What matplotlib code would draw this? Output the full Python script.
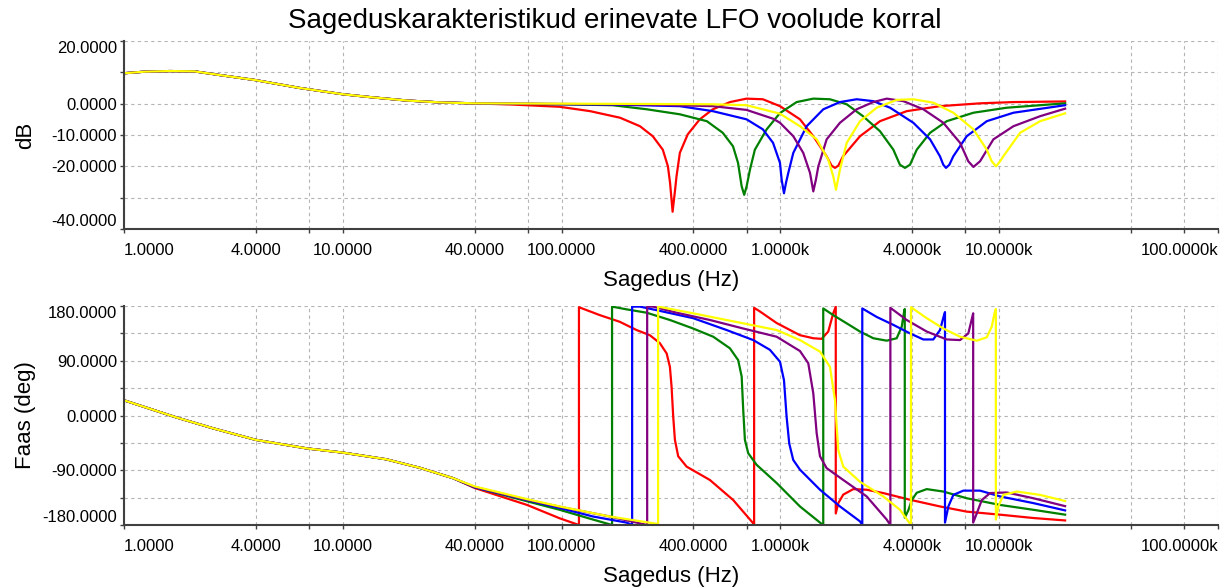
"""Sageduskarakteristikud erinevate LFO voolude korral — amplituud + faas."""
import matplotlib
matplotlib.use("Agg")
import matplotlib.pyplot as plt
from matplotlib.ticker import NullLocator

plt.rcParams["font.family"] = ["Liberation Sans", "DejaVu Sans"]

# --- amplituud (dB), ühine madalsageduslik osa ---
COMMON_MAG_F = [1.0, 1.24, 1.62, 2.1, 2.82, 4.0, 6.35, 10.0, 13.7, 19.6, 27.7, 39.3]
COMMON_MAG_DB = [9.7, 10.2, 10.4, 10.3, 9.0, 7.5, 5.0, 3.0, 2.0, 1.0, 0.4, 0.1]

RED_MAG_F = [60, 98, 135, 185, 228, 261, 290, 306, 313, 321.5, 330, 335, 347, 377, 428, 491, 588, 700,
             831, 995, 1228, 1413, 1626, 1714, 1775, 1838, 1932, 2310, 2851, 3776, 5358, 8170, 11610, 20000]
RED_MAG_DB = [-0.3, -1.0, -2.4, -4.5, -7.2, -10.4, -14.7, -20.0, -25.3, -34.5, -27.5, -23.2, -15.7, -9.8,
              -5.0, -1.8, 0.5, 1.6, 1.4, -0.8, -5.0, -10.4, -16.8, -19.8, -20.5, -19.8, -16.8, -10.4,
              -5.6, -2.4, -0.8, 0.1, 0.5, 0.7]

GREEN_MAG_F = [98, 171, 245, 347, 461, 545, 607, 640, 665, 683, 700, 726, 764, 865, 995, 1186, 1413,
               1683, 2009, 2384, 2851, 3282, 3516, 3708, 3909, 4197, 4830, 5754, 7620, 10820, 20000]
GREEN_MAG_DB = [-0.2, -0.5, -1.8, -3.4, -5.6, -9.3, -13.6, -18.9, -26.4, -29.1, -26.5, -21.0, -14.7,
                -8.2, -3.0, 0.5, 1.6, 1.4, -0.2, -4.0, -8.8, -14.7, -19.5, -20.5, -19.5, -14.7, -9.3,
                -5.6, -2.9, -1.3, 0.1]

BLUE_MAG_F = [170, 347, 491, 700, 831, 925, 995, 1013, 1038, 1060, 1087, 1145, 1318, 1570, 1871, 2230,
              2656, 3170, 4048, 4830, 5358, 5550, 5710, 5916, 6166, 7100, 8770, 11610, 20000]
BLUE_MAG_DB = [-0.3, -0.8, -2.4, -5.0, -8.2, -12.5, -18.9, -24.3, -28.6, -25.3, -22.0, -15.7, -7.2,
               -1.8, 0.5, 1.4, 0.8, -1.3, -6.1, -11.4, -16.8, -19.5, -20.5, -19.5, -16.8, -10.4, -5.6,
               -2.9, -0.5]

PURPLE_MAG_F = [250, 491, 700, 925, 995, 1145, 1271, 1365, 1413, 1452, 1490, 1626, 1871, 2230, 2656,
                3060, 3645, 4498, 5550, 6620, 7220, 7620, 8170, 9400, 11610, 15380, 20000]
PURPLE_MAG_DB = [-0.3, -0.8, -2.0, -4.8, -6.1, -10.4, -15.7, -22.1, -28.0, -24.3, -20.0, -11.4, -6.1,
                 -1.8, 0.5, 1.6, 0.8, -1.8, -6.1, -12.5, -18.4, -20.2, -18.4, -11.4, -7.2, -4.0, -1.6]

YELLOW_MAG_F = [250, 491, 700, 995, 1228, 1465, 1655, 1743, 1794, 1871, 2009, 2310, 2754, 3399, 4048,
                5000, 6166, 7620, 8770, 9240, 9670, 10085, 10440, 12450, 15380, 20000]
YELLOW_MAG_DB = [-0.1, -0.2, -0.5, -3.2, -7.2, -11.4, -17.9, -23.2, -27.5, -21.0, -12.5, -5.6, -1.3,
                 1.2, 1.4, 0.3, -2.9, -8.2, -14.7, -18.4, -20.0, -18.4, -16.8, -9.3, -5.6, -3.1]

# --- faas (deg), ühine madalsageduslik osa ---
COMMON_PH_F = [1.0, 1.73, 2.55, 4.0, 6.82, 10.0, 15.8, 22.5, 31.9]
COMMON_PH_DEG = [25, -3, -21, -40, -54, -61, -72, -86, -103]

RED_PH_F = [40, 69.5, 98, 120, 120, 149.5, 184.5, 220, 253, 281, 302, 312.5, 318, 323.6, 329.4, 341,
            372.5, 476, 608.5, 746, 758, 758, 806, 961, 1228, 1413, 1543, 1654, 1743, 1790, 1790, 1838,
            1937, 2152, 2478, 2952, 3909, 5362, 7102, 10085, 14320, 20000]
RED_PH_DEG = [-119, -147, -169, -180, 178, 165, 154, 140.5, 132, 119, 102, 80, 47.5, -2, -40, -67,
              -84, -106, -139, -176, -180, 177, 171, 152, 132, 127, 126, 138, 168, 179, -161, -144,
              -130, -121, -122, -127.5, -138.5, -149.5, -158, -163, -168.5, -172.5]

GREEN_PH_F = [40, 69.5, 98, 139, 170, 170, 198, 244.5, 312.5, 399, 493, 587.5, 641, 665, 676, 688,
              712.5, 778, 961, 1228, 1516, 1569, 1569, 1743, 2008, 2310, 2657, 3059, 3399, 3583, 3683,
              3700, 3700, 3850, 3980, 4196, 4662, 5552, 7102, 10085, 14320, 20000]
GREEN_PH_DEG = [-118, -141, -155, -171, -180, 179, 174.5, 169, 157, 143, 129.5, 110.5, 91, 64, 9, -40,
                -62, -81, -111, -149.5, -176, -180, 176, 165, 151.5, 138, 127, 123, 127, 146, 173,
                175, -168, -155, -139, -127, -121, -125, -136, -147, -155, -163]

BLUE_PH_F = [40, 69.5, 98, 139, 198, 210, 210, 228, 281, 399, 567.5, 751, 895, 995, 1038, 1067, 1097,
             1144, 1228, 1516, 1871, 2310, 2366, 2366, 2754, 3280, 3909, 4498, 4995, 5362, 5593, 5650,
             5650, 5853, 6168, 6852, 8172, 10085, 14320, 20000]
BLUE_PH_DEG = [-118, -139, -152, -166, -176, -180, 179, 179, 172, 160, 140.5, 124, 108, 88.5, 58, -2,
               -46, -73, -89, -122, -149.5, -174, -180, 176, 162, 149, 135, 125, 125, 140.5, 165, 170,
               -176, -149.5, -130.5, -123.5, -123.5, -133, -144, -156]

PURPLE_PH_F = [40, 69.5, 98, 166, 246, 246, 262, 335, 476, 676, 961, 1228, 1340, 1413, 1464, 1516,
               1626, 1937, 2478, 3059, 3180, 3180, 3776, 4662, 5754, 6617, 7222, 7565, 7600, 7600, 7892,
               8318, 9077, 10822, 14320, 20000]
PURPLE_PH_DEG = [-117.5, -138.5, -150, -166, -180, 179, 179, 169, 157, 143, 129.5, 106, 86, 36.5, -29,
                 -67, -86.5, -106, -133, -171, -180, 177, 157, 138, 125, 124, 135, 165, 168, -176,
                 -161, -139, -127.5, -126.5, -136, -149]

YELLOW_PH_F = [40, 69.5, 98, 166, 272, 276, 276, 399, 676, 961, 1228, 1516, 1684, 1775, 1838, 1937,
               2310, 2952, 3519, 3840, 3950, 3950, 4662, 5552, 6617, 7892, 8767, 9242, 9497, 9650, 9650,
               9906, 10442, 12023, 15368, 20000]
YELLOW_PH_DEG = [-116.5, -137.5, -149.5, -166, -178, -180, 179, 168, 151.5, 140.5, 124, 105, 80, 25.5,
                 -57, -84, -109, -133, -155, -174, -180, 178, 160, 143, 129.5, 123, 128.5, 146, 167,
                 175, -171, -149.5, -130.5, -125, -130.5, -140.5]

# --- teljed ---
X_TICKS = [1, 4, 7, 10, 40, 70, 100, 400, 700, 1000, 4000, 7000, 10000, 40000, 70000, 100000]
X_LABELS = ["1.0000", "4.0000", "", "10.0000", "40.0000", "", "100.0000", "400.0000", "",
            "1.0000k", "4.0000k", "", "10.0000k", "", "", "100.0000k"]
DB_TICKS = [-40, -30, -20, -10, 0, 10, 20]
DB_LABELS = ["-40.0000", "", "-20.0000", "-10.0000", "0.0000", "", "20.0000"]
PH_TICKS = [-180, -135, -90, -45, 0, 45, 90, 135, 180]
PH_LABELS = ["-180.0000", "", "-90.0000", "", "0.0000", "", "90.0000", "", "180.0000"]

COLORS = ["#ff0000", "#008000", "#0000ff", "#800080", "#ffff00"]
MAG = [(RED_MAG_F, RED_MAG_DB), (GREEN_MAG_F, GREEN_MAG_DB), (BLUE_MAG_F, BLUE_MAG_DB),
       (PURPLE_MAG_F, PURPLE_MAG_DB), (YELLOW_MAG_F, YELLOW_MAG_DB)]
PHASE = [(RED_PH_F, RED_PH_DEG), (GREEN_PH_F, GREEN_PH_DEG), (BLUE_PH_F, BLUE_PH_DEG),
         (PURPLE_PH_F, PURPLE_PH_DEG), (YELLOW_PH_F, YELLOW_PH_DEG)]

AX_COLOR = "#404040"


def style(ax, yticks, ylabels, ylabel):
    ax.set_xscale("log")
    ax.set_xlim(1, 1e5)
    ax.set_ylim(yticks[0], yticks[-1])
    ax.set_xticks(X_TICKS, X_LABELS)
    ax.xaxis.set_minor_locator(NullLocator())
    ax.set_yticks(yticks, ylabels)
    ax.yaxis.set_minor_locator(NullLocator())
    ax.grid(True, color="#b4b4b4", linestyle=(0, (3, 3)), linewidth=0.8)
    ax.set_axisbelow(True)
    for side in ("top", "right"):
        ax.spines[side].set_visible(False)
    for side in ("left", "bottom"):
        ax.spines[side].set_color(AX_COLOR)
        ax.spines[side].set_linewidth(1.5)
    ax.tick_params(axis="both", direction="out", length=3, width=1, color=AX_COLOR, labelsize=12)
    ax.tick_params(axis="x", pad=7)
    ax.tick_params(axis="y", pad=2)
    xl = ax.get_xticklabels()
    xl[0].set_ha("left")
    xl[-1].set_ha("right")
    yl = ax.get_yticklabels()
    yl[0].set_va("bottom")
    yl[-1].set_va("top")
    ax.set_xlabel("Sagedus (Hz)", fontsize=16, labelpad=8.5)
    ax.set_ylabel(ylabel, fontsize=16)
    ax.yaxis.set_label_coords(-0.080, 0.5)


fig = plt.figure(figsize=(12.29, 5.87), dpi=100)
ax1 = fig.add_axes([0.1009, 0.6099, 0.8902, 0.3203])
ax2 = fig.add_axes([0.1009, 0.1056, 0.8902, 0.3731])

for color, (f, db) in zip(COLORS, MAG):
    ax1.plot(COMMON_MAG_F + f, COMMON_MAG_DB + db, color=color, linewidth=1.6)
for color, (f, ph) in zip(COLORS, PHASE):
    ax2.plot(COMMON_PH_F + f, COMMON_PH_DEG + ph, color=color, linewidth=1.6)

style(ax1, DB_TICKS, DB_LABELS, "dB")
style(ax2, PH_TICKS, PH_LABELS, "Faas (deg)")

fig.text(0.5, 1 - 21 / 587, "Sageduskarakteristikud erinevate LFO voolude korral",
         ha="center", va="center", fontsize=20)

fig.savefig("out.png", dpi=100)
